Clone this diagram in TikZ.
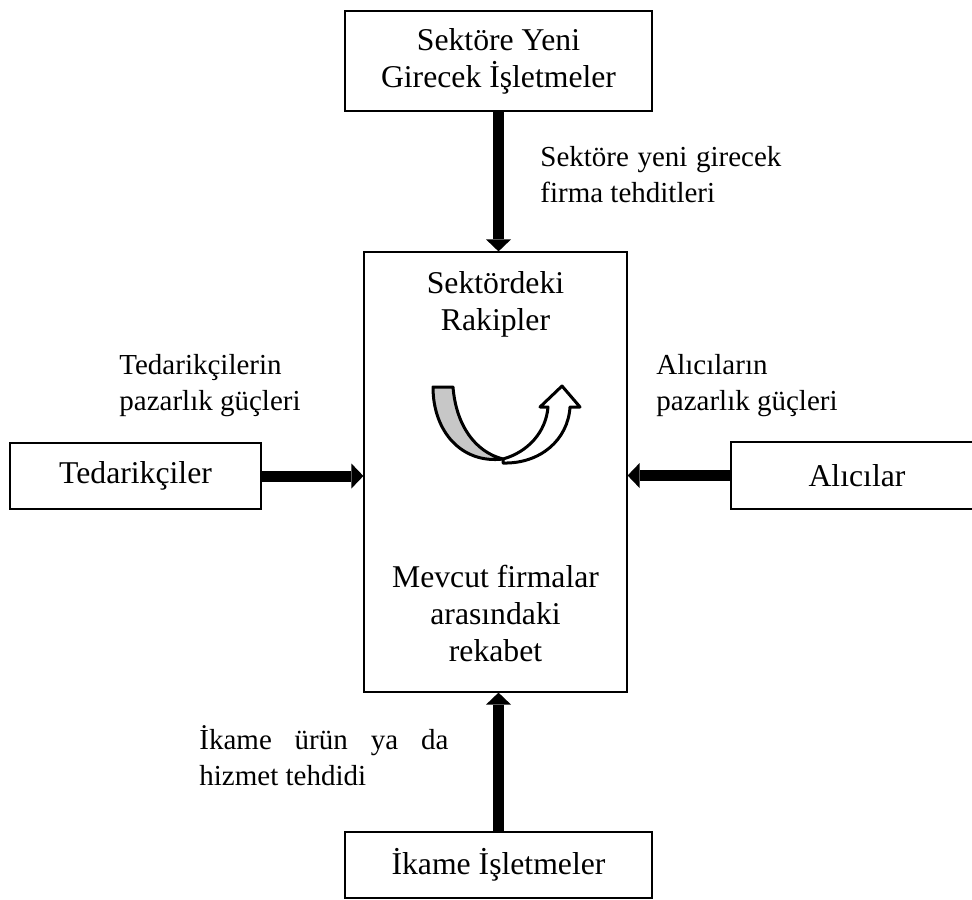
\documentclass[tikz,border=0pt]{standalone}
\usepackage{fontspec}
\setmainfont{Liberation Serif}
\usetikzlibrary{arrows.meta}

\begin{document}
\begin{tikzpicture}[x=0.5pt, y=-0.5pt,
    kutu/.style={draw, line width=0.6pt, align=center, inner sep=0pt,
        font=\fontsize{15.85}{18.5}\selectfont},
    metin/.style={align=center, inner sep=0pt, font=\fontsize{15.85}{18.5}\selectfont},
    etiket/.style={align=left, inner sep=0pt, font=\fontsize{14.5}{18}\selectfont},
    ok/.style={line width=5.5pt, -{Triangle[width=12.5pt, length=6pt, line width=0pt]}}]
\useasboundingbox (0,0) rectangle (972,899);

% Forces around the industry
\node[kutu, minimum width=153.5pt, minimum height=50pt] (yeni) at (498.5,61)
    {Sektöre Yeni\\Girecek İşletmeler};
\node[kutu, minimum width=131.5pt, minimum height=220pt] (rakip) at (495.5,472) {};
\node[kutu, minimum width=125.5pt, minimum height=33pt] (tedarik) at (135.5,476) {Tedarikçiler};
\node[kutu, minimum width=126pt, minimum height=33.5pt] (alici) at (857,475.5) {Alıcılar};
\node[kutu, minimum width=153.5pt, minimum height=33pt] (ikame) at (498.5,865) {İkame İşletmeler};

% Text inside the middle box
\node[metin, anchor=base] (baslik) at (495.5,330) {Sektördeki\\Rakipler};
\node[metin, anchor=base] (rekabet) at (495.5,661) {Mevcut firmalar\\arasındaki\\rekabet};

% Arrows
\draw[ok] (yeni.south) -- (yeni.south |- rakip.north);
\draw[ok] (ikame.north) -- (ikame.north |- rakip.south);
\draw[ok] (tedarik.east) -- (tedarik.east -| rakip.west);
\draw[ok] (alici.west) -- (alici.west -| rakip.east);

% Labels
\node[etiket, anchor=base west] (yenilbl) at (540,202)
    {\makebox[120.5pt][s]{Sektöre yeni girecek}\\firma tehditleri};
\node[etiket, anchor=base west] (tedariklbl) at (119,410) {Tedarikçilerin\\pazarlık güçleri};
\node[etiket, anchor=base west] (alicilbl) at (656,410) {Alıcıların\\pazarlık güçleri};
\node[etiket, anchor=base west] (ikamelbl) at (199,785)
    {\makebox[124.5pt][s]{İkame ürün ya da}\\hizmet tehdidi};

% U-turn arrow
\draw[line width=1.5pt, line join=round, fill=black!22]
    (433,387) -- (453,387) .. controls (456,425) and (475,452) .. (503,459)
    .. controls (462,464) and (433,432) .. cycle;
\draw[line width=1.5pt, line join=round, fill=white]
    (503,459) .. controls (528,452) and (546,432) .. (548,407) -- (540,407)
    -- (562,386) -- (580,407) -- (570,407)
    .. controls (568,440) and (540,464) .. (503,463) -- cycle;
\end{tikzpicture}
\end{document}
